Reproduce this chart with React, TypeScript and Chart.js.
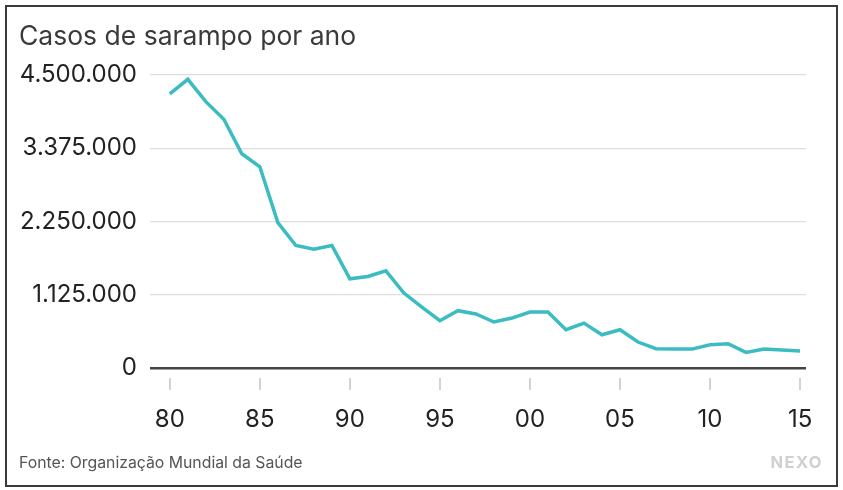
import { useEffect, useRef } from 'react';
import { Chart, registerables } from 'chart.js';

Chart.register(...registerables);

const years = [
  1980, 1981, 1982, 1983, 1984, 1985, 1986, 1987, 1988, 1989,
  1990, 1991, 1992, 1993, 1994, 1995, 1996, 1997, 1998, 1999,
  2000, 2001, 2002, 2003, 2004, 2005, 2006, 2007, 2008, 2009,
  2010, 2011, 2012, 2013, 2014, 2015,
];

const cases = [
  4209000, 4434000, 4090000, 3820000, 3290000, 3090000, 2234000, 1881000, 1826000, 1881000,
  1370000, 1405000, 1493000, 1151000, 936000, 726000, 880000, 830000, 706000, 767000,
  859000, 859000, 588000, 690000, 511000, 588000, 399000, 296000, 290000, 290000,
  357000, 373000, 239000, 290000, 276000, 261000,
];

const xTickYears = [1980, 1985, 1990, 1995, 2000, 2005, 2010, 2015];
const xTickLabels = ['80', '85', '90', '95', '00', '05', '10', '15'];
const yTickValues = [0, 1125000, 2250000, 3375000, 4500000];
const yTickLabels = ['0', '1.125.000', '2.250.000', '3.375.000', '4.500.000'];

const titleText = 'Casos de sarampo por ano';
const sourceText = 'Fonte: Organização Mundial da Saúde';
const brandText = 'NEXO';

const FONT = 'Inter, "DejaVu Sans", sans-serif';

export default function App() {
  const ref = useRef<HTMLCanvasElement>(null);

  useEffect(() => {
    if (!ref.current) return;
    const tickMarks = {
      id: 'tickMarks',
      afterDraw(chart: any) {
        const x = chart.scales.x;
        const { ctx, chartArea } = chart;
        ctx.save();
        ctx.strokeStyle = '#d2d2d2';
        ctx.lineWidth = 2;
        x.ticks.forEach((t: any) => {
          const px = Math.round(x.getPixelForValue(t.value));
          ctx.beginPath();
          ctx.moveTo(px, chartArea.bottom + 10);
          ctx.lineTo(px, chartArea.bottom + 22);
          ctx.stroke();
        });
        ctx.restore();
      },
    };

    const chart = new Chart(ref.current, {
      type: 'line',
      data: {
        datasets: [
          {
            data: years.map((y, i) => ({ x: y, y: cases[i] })),
            borderColor: '#3bbcc2',
            borderWidth: 3.5,
            pointRadius: 0,
            tension: 0,
            fill: false,
          },
        ],
      },
      options: {
        animation: false,
        responsive: false,
        layout: { padding: { left: 4, top: 75, right: 37, bottom: 42 } },
        plugins: {
          legend: { display: false },
          tooltip: { enabled: false },
          title: { display: false },
        },
        scales: {
          x: {
            type: 'linear',
            min: 1978.9,
            max: 2015.33,
            afterBuildTicks: (s: any) => {
              s.ticks = xTickYears.map((v) => ({ value: v }));
            },
            afterFit: (s: any) => {
              s.height = 80;
            },
            grid: { display: false },
            border: { display: false },
            ticks: {
              padding: 29,
              color: '#222',
              font: { family: FONT, size: 24 },
              maxRotation: 0,
              autoSkip: false,
              callback: (v: any) => {
                const i = xTickYears.indexOf(Number(v));
                return i >= 0 ? xTickLabels[i] : '';
              },
            },
          },
          y: {
            min: 0,
            max: 4500000,
            afterBuildTicks: (s: any) => {
              s.ticks = yTickValues.map((v) => ({ value: v }));
            },
            afterFit: (s: any) => {
              s.width = 146;
            },
            grid: {
              color: (c: any) => (c.tick && c.tick.value === 0 ? '#444' : '#dedede'),
              lineWidth: (c: any) => (c.tick && c.tick.value === 0 ? 2.5 : 1.3),
              drawTicks: false,
            },
            border: { display: false },
            ticks: {
              padding: 13,
              color: '#222',
              font: { family: FONT, size: 24 },
              callback: (v: any) => {
                const i = yTickValues.indexOf(Number(v));
                return i >= 0 ? yTickLabels[i] : '';
              },
            },
          },
        },
      },
      plugins: [tickMarks],
    } as any);
    return () => chart.destroy();
  }, []);

  return (
    <div style={{ position: 'absolute', left: 0, top: 0, width: 843, height: 490, background: '#fff', overflow: 'hidden' }}>
      <div
        style={{
          position: 'absolute',
          left: 5,
          top: 5,
          width: 833,
          height: 482,
          border: '2px solid #3a3a3a',
          boxSizing: 'border-box',
        }}
      />
      <canvas ref={ref} width={843} height={490} style={{ position: 'absolute', left: 0, top: 0, width: 843, height: 490 }} />
      <div
        style={{
          position: 'absolute',
          left: 19,
          top: 22,
          fontFamily: FONT,
          fontSize: 26.5,
          lineHeight: 1,
          color: '#3a3a3a',
          whiteSpace: 'nowrap',
        }}
      >
        {titleText}
      </div>
      <div
        style={{
          position: 'absolute',
          left: 19,
          top: 455,
          fontFamily: FONT,
          fontSize: 15.8,
          lineHeight: 1,
          color: '#555',
          whiteSpace: 'nowrap',
        }}
      >
        {sourceText}
      </div>
      <div
        style={{
          position: 'absolute',
          right: 20,
          top: 454,
          fontFamily: FONT,
          fontSize: 16.5,
          fontWeight: 700,
          letterSpacing: 1.5,
          lineHeight: 1,
          color: '#d0d0d0',
          whiteSpace: 'nowrap',
        }}
      >
        {brandText}
      </div>
    </div>
  );
}
